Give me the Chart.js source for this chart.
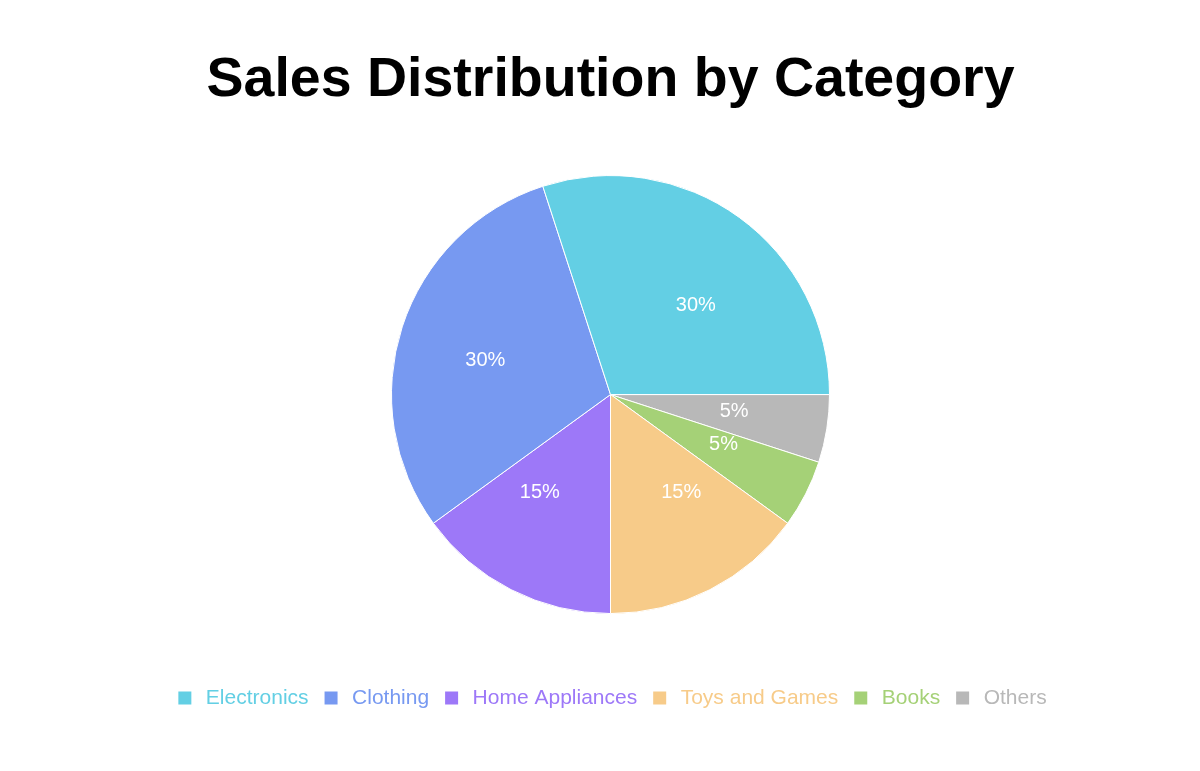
<!DOCTYPE html>
<html>
<head>
<meta charset="utf-8">
<title>Sales Distribution by Category</title>
<script src="https://cdn.jsdelivr.net/npm/chart.js@4.4.1/dist/chart.umd.min.js"></script>
<style>
    html, body { margin: 0; padding: 0; background: #ffffff; }
    #wrap { width: 1200px; height: 771px; }
</style>
</head>
<body>
<div id="wrap"><canvas id="salesChart"></canvas></div>
<script>
// chart data, in legend order
const categories = ['Electronics', 'Clothing', 'Home Appliances', 'Toys and Games', 'Books', 'Others'];
const salesShare = [30, 30, 15, 15, 5, 5];
const sliceColors = ['#63cfe4', '#7799f1', '#9d78f8', '#f7cb89', '#a5d177', '#b8b8b8'];

const FONT = "'Liberation Sans', Arial, Helvetica, sans-serif";

// slices run counter-clockwise in the reference, so feed them reversed
const drawOrder = categories.map((c, i) => i).reverse();

// white percent labels, anchored at the slice centre point and
// pushed outward (left-aligned on the right half, right-aligned on the left)
const sliceLabels = {
    id: 'sliceLabels',
    afterDatasetsDraw(chart) {
        const ctx = chart.ctx;
        const meta = chart.getDatasetMeta(0);
        const values = chart.data.datasets[0].data;
        ctx.save();
        ctx.fillStyle = '#ffffff';
        ctx.font = '20px ' + FONT;
        ctx.textBaseline = 'middle';
        meta.data.forEach((arc, i) => {
            const p = arc.getProps(['x', 'y', 'startAngle', 'endAngle', 'outerRadius'], true);
            const mid = (p.startAngle + p.endAngle) / 2;
            const dist = p.outerRadius / 2;
            const ax = p.x + Math.cos(mid) * dist;
            const ay = p.y + Math.sin(mid) * dist;
            const right = Math.cos(mid) >= 0;
            ctx.textAlign = right ? 'left' : 'right';
            ctx.fillText(values[i] + '%', ax + (right ? 1 : -1), ay);
        });
        ctx.restore();
    }
};

new Chart(document.getElementById('salesChart'), {
    type: 'pie',
    data: {
        labels: drawOrder.map(i => categories[i]),
        datasets: [{
            data: drawOrder.map(i => salesShare[i]),
            backgroundColor: drawOrder.map(i => sliceColors[i]),
            borderColor: '#ffffff',
            borderWidth: 1
        }]
    },
    options: {
        responsive: true,
        maintainAspectRatio: false,
        animation: false,
        rotation: 90,
        radius: 219,
        layout: {
            padding: { left: 21, right: 0, top: 0, bottom: 52.5 }
        },
        plugins: {
            title: {
                display: true,
                text: 'Sales Distribution by Category',
                color: '#000000',
                font: { family: FONT, size: 55.5, weight: 'bold' },
                padding: { top: 47, bottom: 0 }
            },
            legend: {
                position: 'bottom',
                reverse: true,
                labels: {
                    usePointStyle: true,
                    pointStyle: 'rect',
                    boxWidth: 21,
                    boxHeight: 13,
                    padding: 12,
                    font: { family: FONT, size: 21 },
                    generateLabels(chart) {
                        const items = Chart.overrides.pie.plugins.legend.labels.generateLabels(chart);
                        items.forEach(item => {
                            item.fontColor = item.fillStyle;
                            item.strokeStyle = item.fillStyle;
                            item.lineWidth = 0;
                        });
                        return items;
                    }
                }
            },
            tooltip: { enabled: false }
        }
    },
    plugins: [sliceLabels]
});
</script>
</body>
</html>
